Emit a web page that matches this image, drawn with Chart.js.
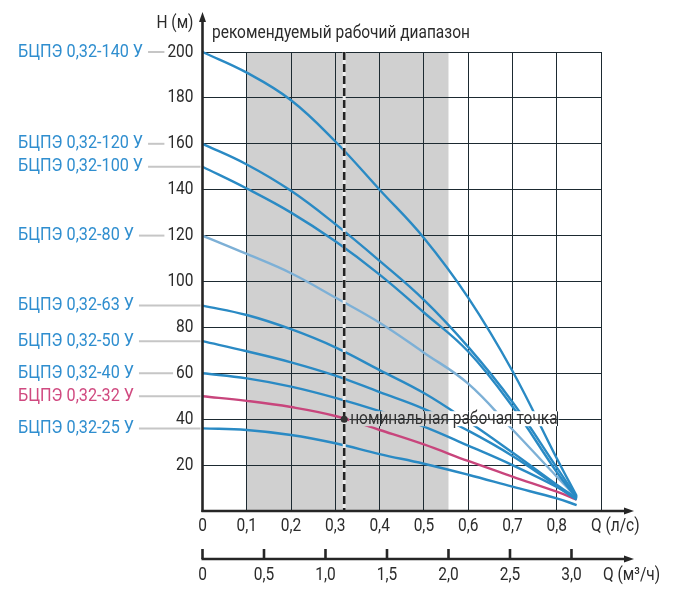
<!DOCTYPE html>
<html lang="ru">
<head>
<meta charset="utf-8">
<script src="https://cdn.jsdelivr.net/npm/chart.js@4.4.1/dist/chart.umd.min.js"></script>
<style>
  html, body { margin: 0; padding: 0; background: #fff; }
</style>
</head>
<body>
<canvas id="chart" width="674" height="596"></canvas>
<script>
const Q_POINTS = [0, 0.1, 0.2, 0.3, 0.4, 0.5, 0.6, 0.7, 0.8, 0.845];

// H (м) for each pump at Q_POINTS
const H_140 = [200, 191, 179, 161, 140, 119, 93, 61, 23, 6.5];
const H_120 = [160, 151, 139.5, 125, 109, 92, 71.5, 47.5, 19, 6];
const H_100 = [150, 140.5, 130, 117.5, 103, 86.5, 69.5, 45.5, 17, 5.5];
const H_80 = [120, 112, 103.6, 93, 82, 69, 55.5, 35.5, 15, 6];
const H_63 = [89.5, 85.4, 79.2, 71.3, 61.4, 51.4, 39, 25.5, 11.5, 5.5];
const H_50 = [74, 69.6, 64.8, 59, 51.8, 44.5, 35, 24, 11, 5];
const H_40 = [60, 57.8, 54.2, 49.3, 43.5, 36.8, 28.5, 20, 10.5, 5];
const H_32 = [50, 48, 45.3, 41.4, 35.3, 29, 21.8, 15, 8.4, 5];
const H_25 = [36, 35.3, 33.1, 29.5, 24.8, 20.6, 15.8, 10.6, 5.5, 2.6];

const PUMP_NAMES = [
  "БЦПЭ 0,32-140 У",
  "БЦПЭ 0,32-120 У",
  "БЦПЭ 0,32-100 У",
  "БЦПЭ 0,32-80 У",
  "БЦПЭ 0,32-63 У",
  "БЦПЭ 0,32-50 У",
  "БЦПЭ 0,32-40 У",
  "БЦПЭ 0,32-32 У",
  "БЦПЭ 0,32-25 У",
];
const PUMP_H = [H_140, H_120, H_100, H_80, H_63, H_50, H_40, H_32, H_25];

const Q_TICKS_M3H = [0, 0.5, 1.0, 1.5, 2.0, 2.5, 3.0];
const RANGE_Q = [0.1, 2.0 / 3.6]; // рекомендуемый рабочий диапазон, л/с
const NOMINAL_Q = 0.32;
const NOMINAL_H = 40;

const BLUE = "#2a8ac4";
const LIGHT_BLUE = "#7db0d6";
const PINK = "#c8457c";
const LINE_COLORS = [BLUE, BLUE, BLUE, LIGHT_BLUE, BLUE, BLUE, BLUE, PINK, BLUE];
const LABEL_COLORS = ["#2f8ecf", "#2f8ecf", "#2f8ecf", "#2f8ecf", "#2f8ecf", "#2f8ecf", "#2f8ecf", "#d04a80", "#2f8ecf"];
const GRID = "#1d2a31";
const SHADE = "#d0d0d0";
const INK = "#2b2b2b";
const FONT = "Roboto, 'Noto Sans', sans-serif";
const SQUEEZE = 0.86;
const NAME_SQUEEZE = 0.9;

function setFont(ctx, size) {
  ctx.font = `${size}px ${FONT}`;
}

function textW(ctx, text, size = 18, sq = SQUEEZE) {
  ctx.save();
  setFont(ctx, size);
  const w = ctx.measureText(text).width * sq;
  ctx.restore();
  return w;
}

function drawText(ctx, text, x, y, color, align = "left", size = 18, sq = SQUEEZE) {
  ctx.save();
  setFont(ctx, size);
  ctx.fillStyle = color;
  ctx.textBaseline = "middle";
  ctx.textAlign = align;
  ctx.translate(x, y);
  ctx.scale(sq, 1);
  ctx.fillText(text, 0, 0);
  ctx.restore();
}

function fmt(v) {
  if (v === 0) return "0";
  return v.toFixed(1).replace(".", ",");
}

function arrowLine(ctx, x1, y1, x2, y2) {
  const ang = Math.atan2(y2 - y1, x2 - x1);
  const len = 10;
  const half = 3.5;
  const bx = x2 - Math.cos(ang) * len;
  const by = y2 - Math.sin(ang) * len;
  ctx.beginPath();
  ctx.moveTo(x1, y1);
  ctx.lineTo(bx, by);
  ctx.stroke();
  ctx.beginPath();
  ctx.moveTo(x2, y2);
  ctx.lineTo(bx - Math.sin(ang) * half, by + Math.cos(ang) * half);
  ctx.lineTo(bx + Math.sin(ang) * half, by - Math.cos(ang) * half);
  ctx.closePath();
  ctx.fill();
}

const decor = {
  id: "decor",
  beforeDraw(chart) {
    const { ctx, chartArea: a, scales: { x } } = chart;
    const x1 = x.getPixelForValue(RANGE_Q[0]);
    const x2 = x.getPixelForValue(RANGE_Q[1]);
    ctx.save();
    ctx.fillStyle = SHADE;
    ctx.fillRect(x1, a.top, x2 - x1, a.bottom - a.top);
    ctx.restore();
  },
  afterDatasetsDraw(chart) {
    const { ctx, chartArea: a, scales: { x, y } } = chart;
    const sx2 = x.getPixelForValue(RANGE_Q[1]);
    const px = x.getPixelForValue(NOMINAL_Q);
    const py = y.getPixelForValue(NOMINAL_H);

    // knock out the curves behind the nominal point label
    const label = "номинальная рабочая точка";
    const tx = px + 6;
    const tw = textW(ctx, label, 18);
    const box = { l: tx - 1, t: py - 8, r: tx + tw + 1, b: py + 7 };
    ctx.save();
    ctx.fillStyle = SHADE;
    ctx.fillRect(box.l, box.t, Math.min(box.r, sx2) - box.l, box.b - box.t);
    ctx.fillStyle = "#fff";
    ctx.fillRect(sx2, box.t, box.r - sx2, box.b - box.t);
    ctx.beginPath();
    ctx.rect(box.l, box.t, box.r - box.l, box.b - box.t);
    ctx.clip();
    ctx.strokeStyle = GRID;
    ctx.lineWidth = 1;
    ctx.beginPath();
    ctx.moveTo(box.l, Math.round(py) + 0.5);
    ctx.lineTo(box.r, Math.round(py) + 0.5);
    x.ticks.forEach(t => {
      const gx = Math.round(x.getPixelForValue(t.value)) + 0.5;
      ctx.moveTo(gx, box.t);
      ctx.lineTo(gx, box.b);
    });
    ctx.stroke();
    ctx.restore();

    // dashed line through nominal flow
    ctx.save();
    ctx.strokeStyle = "#eeeeee";
    ctx.lineWidth = 3;
    ctx.beginPath();
    ctx.moveTo(px, a.top);
    ctx.lineTo(px, a.bottom);
    ctx.stroke();
    ctx.strokeStyle = "#222";
    ctx.lineWidth = 2.6;
    ctx.setLineDash([8, 4]);
    ctx.beginPath();
    ctx.moveTo(px, a.top);
    ctx.lineTo(px, a.bottom);
    ctx.stroke();
    ctx.setLineDash([]);
    ctx.fillStyle = "#333";
    ctx.beginPath();
    ctx.arc(px, py, 3.5, 0, Math.PI * 2);
    ctx.fill();
    ctx.restore();
    drawText(ctx, label, tx, py, "#333", "left", 18);
  },
  afterDraw(chart) {
    const { ctx, scales: { x, y } } = chart;
    const x0 = x.getPixelForValue(0);
    const y0 = y.getPixelForValue(0);
    const axisEnd = 634;
    const axis2Y = 559;

    ctx.save();
    ctx.strokeStyle = "#262626";
    ctx.fillStyle = "#262626";
    ctx.lineWidth = 2.6;
    arrowLine(ctx, x0, y0 + 1, x0, 12);
    arrowLine(ctx, x0 - 1, y0, axisEnd, y0);
    arrowLine(ctx, x0 - 1, axis2Y, axisEnd, axis2Y);
    Q_TICKS_M3H.forEach(v => {
      const tx = x.getPixelForValue(v / 3.6);
      ctx.beginPath();
      ctx.moveTo(tx, axis2Y);
      ctx.lineTo(tx, axis2Y - 10);
      ctx.stroke();
    });
    ctx.restore();

    // tick labels
    y.ticks.forEach(t => {
      if (t.value <= 0) return;
      drawText(ctx, String(t.value), 193.5, y.getPixelForValue(t.value), INK, "right");
    });
    x.ticks.forEach(t => {
      if (t.value > 0.85) return;
      drawText(ctx, fmt(t.value), x.getPixelForValue(t.value), 526, INK, "center");
    });
    Q_TICKS_M3H.forEach(v => {
      drawText(ctx, fmt(v), x.getPixelForValue(v / 3.6), 575, INK, "center");
    });
    drawText(ctx, "Q (л/с)", 591, 526, INK, "left");
    drawText(ctx, "Q (м³/ч)", 603, 575, INK, "left");
    drawText(ctx, "Н (м)", 193.5, 23, INK, "right");
    drawText(ctx, "рекомендуемый рабочий диапазон", 212, 33, INK, "left");

    // pump names with connectors
    PUMP_NAMES.forEach((name, i) => {
      const h = PUMP_H[i][0];
      const ly = y.getPixelForValue(h);
      const w = textW(ctx, name, 18, NAME_SQUEEZE);
      drawText(ctx, name, 18, ly, LABEL_COLORS[i], "left", 18, NAME_SQUEEZE);
      let end = x0 - 2;
      if (h % 20 === 0) end = 193.5 - textW(ctx, String(h)) - 3;
      ctx.save();
      ctx.strokeStyle = "#c6c6c6";
      ctx.lineWidth = 2;
      ctx.beginPath();
      ctx.moveTo(18 + w + 5, ly);
      ctx.lineTo(end, ly);
      ctx.stroke();
      ctx.restore();
    });
  },
};

const datasets = PUMP_H.map((h, i) => ({
  label: PUMP_NAMES[i],
  data: Q_POINTS.map((q, j) => ({ x: q, y: h[j] })),
  borderColor: LINE_COLORS[i],
  borderWidth: 2.4,
  pointRadius: 0,
  tension: 0.4,
  fill: false,
  clip: 6,
}));

new Chart(document.getElementById("chart"), {
  type: "line",
  data: { datasets },
  options: {
    responsive: false,
    animation: false,
    layout: { padding: { left: 0, right: 73, top: 52, bottom: 85 } },
    plugins: { legend: { display: false }, tooltip: { enabled: false } },
    scales: {
      x: {
        type: "linear",
        min: 0,
        max: 0.9,
        afterFit: s => { s.height = 0; },
        ticks: { display: false, stepSize: 0.1 },
        grid: { color: GRID, lineWidth: 1, drawTicks: false },
        border: { display: false },
      },
      y: {
        min: 0,
        max: 200,
        afterFit: s => { s.width = 202.5; },
        ticks: { display: false, stepSize: 20 },
        grid: { color: GRID, lineWidth: 1, drawTicks: false },
        border: { display: false },
      },
    },
  },
  plugins: [decor],
});
</script>
</body>
</html>
